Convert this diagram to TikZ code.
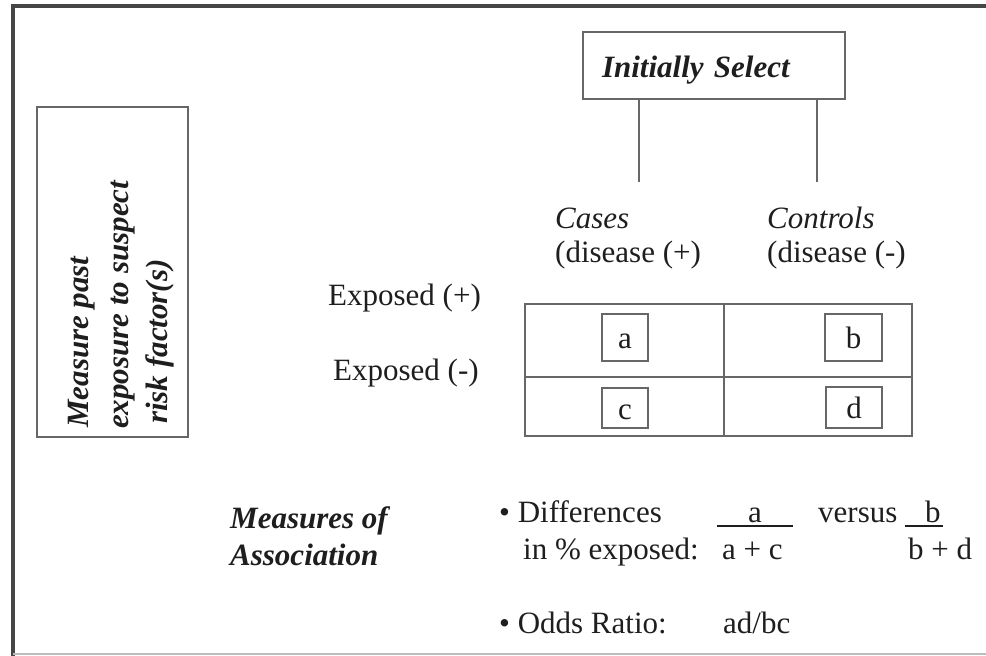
\documentclass[tikz,border=0pt]{standalone}
\usepackage{fontspec}
\setmainfont{Liberation Serif}
\usepackage{tikz}
\usetikzlibrary{positioning}
\usetikzlibrary{arrows.meta}

\definecolor{framegray}{HTML}{464646}
\definecolor{rulegray}{HTML}{BDBDBD}
\definecolor{linegray}{HTML}{676767}
\definecolor{inkgray}{HTML}{1E1E1E}

\begin{document}
\begin{tikzpicture}[x=1pt,y=-1pt,>=Stealth,
  txt/.style={anchor=base west,inner sep=0pt,text=inkgray,font=\fontsize{31}{37}\selectfont},
  itxt/.style={txt,font=\fontsize{31}{37}\selectfont\itshape},
  btxt/.style={txt,font=\fontsize{31}{37}\selectfont\bfseries\itshape},
  cellbox/.style={draw=linegray,line width=1.4pt,inner sep=0pt,text height=22pt,text depth=0pt,
    text=inkgray,font=\fontsize{31}{37}\selectfont},
  grid/.style={draw=linegray,line width=1.5pt}]
\def\fs{31}
\useasboundingbox (0,0) rectangle (986,656);

%frame
\draw[framegray,line width=4pt] (13,656) -- (13,6) -- (986,6);
\draw[rulegray,line width=2pt] (13,654) -- (986,654);

%selection box
\node[draw=linegray,line width=1.5pt,minimum width=262pt,minimum height=67pt,
  text width=224pt,align=left,inner xsep=19pt,inner ysep=0pt,
  text height=23pt,text depth=0pt,text=inkgray,
  font=\fontsize{\fs}{37}\selectfont\bfseries\itshape] (sel) at (714,65.5) {Initially Select};
\coordinate (casesTop) at (639,182);
\coordinate (ctrlTop) at (817,182);
\draw[linegray,line width=1.5pt] (sel.south -| casesTop) -- (casesTop);
\draw[linegray,line width=1.5pt] (sel.south -| ctrlTop) -- (ctrlTop);

%left box, rotated text
\node[draw=linegray,line width=1.5pt,minimum width=151pt,minimum height=330pt,inner sep=0pt] (past) at (112.5,272) {};
\node[btxt,rotate=90] (past1) at (88,428) {Measure past};
\node[btxt,rotate=90] (past2) at (128,429) {exposure to suspect};
\node[btxt,rotate=90] (past3) at (167,424) {risk factor(s)};

%column heads
\node[itxt] (cases) at (555,228) {Cases};
\node[txt] (casesD) at (555,262) {(disease (+)};
\node[itxt] (ctrl) at (767,228) {Controls};
\node[txt] (ctrlD) at (767,262) {(disease (-)};

%row heads
\node[txt] (expP) at (328,305) {Exposed (+)};
\node[txt] (expM) at (333,380) {Exposed (-)};

%two by two table
\draw[grid] (525,304) rectangle (912,436);
\draw[grid] (525,377) -- (912,377);
\draw[grid] (724,304) -- (724,436);
\node[cellbox,minimum width=46pt,minimum height=47pt] (ca) at (625,337.5) {a};
\node[cellbox,minimum width=57pt,minimum height=47pt] (cb) at (853.5,337.5) {b};
\node[cellbox,minimum width=46pt,minimum height=40pt] (cc) at (625,408) {c};
\node[cellbox,minimum width=56pt,minimum height=41pt] (cd) at (854,407.5) {d};

%measures
\node[btxt] (meas1) at (230,528) {Measures of};
\node[btxt] (meas2) at (230,565) {Association};

\node[txt] (diff1) at (499,522) {\textbullet\ Differences};
\node[txt] (diff2) at (523,559) {in \% exposed:};
\node[txt,anchor=base] (fa) at (755,522) {a};
\draw[inkgray,line width=1.3pt] (717,526) -- (793,526);
\node[txt] (fac) at (722,559) {a + c};
\node[txt] (vs) at (818,522) {versus};
\node[txt] (fb) at (925,522) {b};
\draw[inkgray,line width=1.3pt] (905,526) -- (943,526);
\node[txt] (fbd) at (908,559) {b + d};

\node[txt] (odds) at (499,633) {\textbullet\ Odds Ratio:};
\node[txt] (adbc) at (723,633) {ad/bc};
\end{tikzpicture}
\end{document}
